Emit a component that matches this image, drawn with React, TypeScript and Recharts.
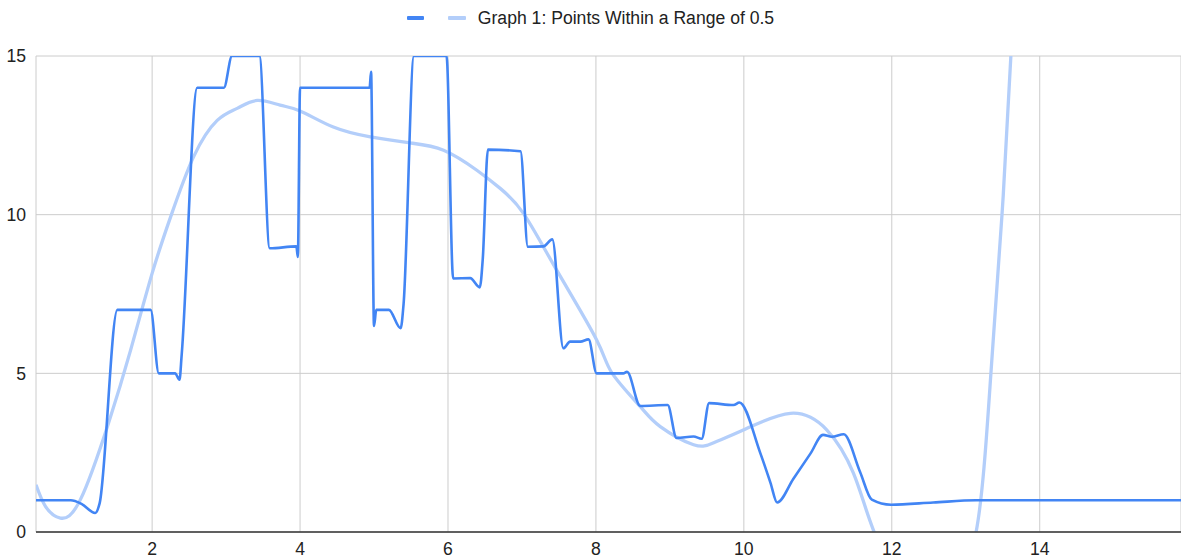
import React from 'react';
import { LineChart, Line, XAxis, YAxis, CartesianGrid } from 'recharts';

const mainX = [0.43, 0.9, 1.05, 1.23, 1.29, 1.53, 1.98, 2.09, 2.31, 2.37, 2.4, 2.61, 2.97, 3.08, 3.45, 3.59, 3.95, 3.97, 4.0, 4.94, 4.96, 5.0, 5.03, 5.2, 5.36, 5.4, 5.54, 5.98, 6.07, 6.3, 6.43, 6.47, 6.54, 6.98, 7.08, 7.29, 7.41, 7.56, 7.65, 7.79, 7.9, 8.01, 8.37, 8.42, 8.6, 8.97, 9.09, 9.32, 9.43, 9.53, 9.86, 9.94, 10.22, 10.36, 10.45, 10.67, 10.9, 11.07, 11.19, 11.35, 11.57, 11.73, 11.99, 12.56, 13.14, 15.91];
const mainY = [1.0, 1.0, 0.88, 0.6, 0.9, 7.0, 7.0, 5.0, 5.0, 4.8, 5.6, 14.0, 14.0, 15.0, 15.0, 8.94, 9.0, 8.67, 14.0, 14.0, 14.5, 6.49, 7.0, 7.0, 6.42, 7.2, 15.0, 15.0, 7.99, 8.0, 7.71, 8.6, 12.05, 12.0, 8.99, 9.0, 9.22, 5.79, 6.0, 6.0, 6.07, 5.0, 5.0, 5.05, 3.97, 4.0, 2.96, 3.01, 2.94, 4.06, 4.0, 4.08, 2.5, 1.55, 0.93, 1.68, 2.47, 3.06, 3.0, 3.08, 1.9, 1.02, 0.86, 0.93, 1.0, 1.0];

const trendX = [0.43, 0.56, 0.76, 1.03, 1.41, 1.71, 2.0, 2.25, 2.56, 2.88, 3.15, 3.42, 3.73, 4.0, 4.45, 4.95, 5.49, 5.94, 6.39, 6.71, 7.02, 7.47, 8.01, 8.22, 8.6, 8.87, 9.32, 9.6, 10.0, 10.63, 11.12, 11.48, 11.75, 12.1, 12.45, 12.8, 13.14, 13.34, 13.49, 13.61, 13.75];
const trendY = [1.49, 0.8, 0.44, 1.02, 3.43, 5.74, 8.15, 9.93, 11.82, 12.97, 13.35, 13.6, 13.45, 13.27, 12.76, 12.45, 12.26, 12.03, 11.4, 10.82, 10.04, 8.25, 6.05, 5.0, 3.95, 3.32, 2.75, 2.82, 3.22, 3.74, 3.22, 1.86, 0.07, -1.5, -2.2, -1.6, 0, 5, 10, 15, 22];

const xTicks = [2, 4, 6, 8, 10, 12, 14];
const yTicks = [0, 5, 10, 15];
const legendLabel = 'Graph 1: Points Within a Range of 0.5';

const mainData = mainX.map((x, i) => ({ x, y: mainY[i] }));
const trendData = trendX.map((x, i) => ({ x, y: trendY[i] }));

const FONT = '"Liberation Sans", Arial, sans-serif';

const LegendContent = () => (
  <div style={{ position: 'absolute', left: 0, top: 0, display: 'flex', alignItems: 'center', justifyContent: 'center', width: 1181, height: 36, fontFamily: FONT, fontSize: 17.6, color: '#222', lineHeight: '20px' }}>
    <span style={{ display: 'inline-block', width: 17, height: 4, background: '#4285f4', borderRadius: 1 }} />
    <span style={{ display: 'inline-block', width: 18, height: 4, background: '#b3cefa', marginLeft: 24, borderRadius: 1 }} />
    <span style={{ marginLeft: 12 }}>{legendLabel}</span>
  </div>
);

export default function App() {
  return (
    <div style={{ position: 'absolute', left: 0, top: 0, width: 1181, height: 558, background: '#fff' }}>
      <LineChart width={1181} height={558} margin={{ top: 56, right: 0, bottom: 0, left: 0 }}>
        <CartesianGrid stroke="#cccccc" strokeWidth={1} />
        <XAxis
          type="number"
          dataKey="x"
          domain={[0.43, 15.91]}
          ticks={xTicks}
          allowDataOverflow
          tickLine={false}
          tickSize={0}
          tickMargin={11}
          height={26}
          axisLine={{ stroke: '#333', strokeWidth: 1.3 }}
          tick={{ fill: '#222', fontSize: 17.6, fontFamily: FONT }}
        />
        <YAxis
          type="number"
          domain={[0, 15]}
          ticks={yTicks}
          allowDataOverflow
          axisLine={false}
          tickLine={false}
          tickSize={0}
          tickMargin={10}
          width={36}
          tick={{ fill: '#222', fontSize: 17.6, fontFamily: FONT }}
        />
        <Line data={trendData} dataKey="y" type="natural" stroke="#b3cefa" strokeWidth={3.3} dot={false} activeDot={false} isAnimationActive={false} />
        <Line data={mainData} dataKey="y" type="monotone" stroke="#4285f4" strokeWidth={2.6} dot={false} activeDot={false} isAnimationActive={false} />
      </LineChart>
      <LegendContent />
    </div>
  );
}
